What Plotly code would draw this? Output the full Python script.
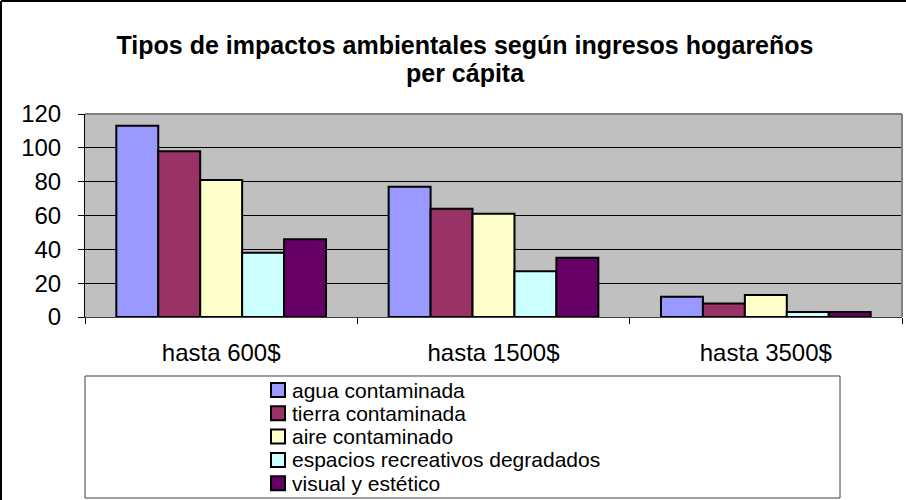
import plotly.graph_objects as go

categorias = ["hasta 600$", "hasta 1500$", "hasta 3500$"]
series = ["agua contaminada", "tierra contaminada", "aire contaminado",
          "espacios recreativos degradados", "visual y estético"]
agua = [113, 77, 12]
tierra = [98, 64, 8]
aire = [81, 61, 13]
espacios = [38, 27, 3]
visual = [46, 35, 3]
valores = [agua, tierra, aire, espacios, visual]
colores = ["#9999FF", "#993366", "#FFFFCC", "#CCFFFF", "#660066"]

titulo = ["Tipos de impactos ambientales según ingresos hogareños", "per cápita"]

W, H = 906, 500
ML, MR, MT, MB = 85, 4, 114, 183
PW, PH = W - ML - MR, H - MT - MB
FONT = "Arial, Liberation Sans, sans-serif"


# pixel -> paper helpers
def px_x(px):
    return (px - ML) / PW


def px_y(py):
    return (MT + PH - py) / PH


fig = go.Figure()
for nombre, vals, col in zip(series, valores, colores):
    fig.add_trace(go.Bar(
        x=categorias, y=vals, name=nombre,
        marker=dict(color=col, line=dict(color="black", width=2)),
        showlegend=False,
    ))

fig.update_layout(
    width=W, height=H,
    margin=dict(l=ML, r=MR, t=MT, b=MB),
    paper_bgcolor="white",
    plot_bgcolor="#C0C0C0",
    barmode="group",
    bargap=0.23,
    bargroupgap=0,
    font=dict(family=FONT, color="black", size=24),
    title=dict(
        text="<b>" + titulo[0] + "</b>",
        x=465 / W, xref="container", xanchor="center",
        y=1 - 45 / H, yref="container", yanchor="middle",
        font=dict(size=25, family=FONT, color="black"),
    ),
)
fig.add_annotation(
    text="<b>" + titulo[1] + "</b>", xref="paper", yref="paper",
    x=px_x(465), y=px_y(73), xanchor="center", yanchor="middle",
    showarrow=False, font=dict(size=25, family=FONT, color="black"),
)

fig.update_yaxes(
    range=[0, 120], dtick=20,
    showgrid=True, gridcolor="black", gridwidth=1,
    showline=True, linecolor="black", linewidth=1,
    ticks="outside", ticklen=6, tickcolor="black",
    ticklabelstandoff=12,
    tickfont=dict(size=24),
    zeroline=False,
)
fig.update_xaxes(
    showline=True, linecolor="#404040", linewidth=1,
    ticks="outside", ticklen=6, tickcolor="black",
    tickson="boundaries",
    ticklabelstandoff=14,
    tickfont=dict(size=24),
)

# plot area border (top / right)
fig.add_shape(type="line", xref="paper", yref="paper",
              x0=0, y0=1, x1=1, y1=1, line=dict(color="#808080", width=2))
fig.add_shape(type="line", xref="paper", yref="paper",
              x0=1, y0=0, x1=1, y1=1, line=dict(color="#808080", width=2))

# outer chart frame (top and left visible)
fig.add_shape(type="line", xref="paper", yref="paper",
              x0=px_x(1), y0=px_y(1), x1=px_x(W + 5), y1=px_y(1),
              line=dict(color="black", width=2))
fig.add_shape(type="line", xref="paper", yref="paper",
              x0=px_x(1), y0=px_y(1), x1=px_x(1), y1=px_y(H + 5),
              line=dict(color="black", width=2))

# legend box
fig.add_shape(type="rect", xref="paper", yref="paper",
              x0=px_x(85), y0=px_y(498), x1=px_x(840), y1=px_y(376),
              line=dict(color="#404040", width=1), fillcolor="white")

# legend entries
fila0, paso = 390, 23.3
for i, (nombre, col) in enumerate(zip(series, colores)):
    cy = fila0 + i * paso
    fig.add_shape(type="rect", xref="paper", yref="paper",
                  x0=px_x(271), x1=px_x(285), y0=px_y(cy + 7), y1=px_y(cy - 7),
                  fillcolor=col, line=dict(color="black", width=2))
    fig.add_annotation(x=px_x(290), y=px_y(cy), xref="paper", yref="paper",
                       text=nombre, showarrow=False,
                       xanchor="left", yanchor="middle",
                       font=dict(size=21, family=FONT, color="black"))

# the page body has an 8px default margin; drop it so the chart sits at 0,0
fig.write_html("out.html", config={"displayModeBar": False},
               post_script="document.body.style.margin='0';")
